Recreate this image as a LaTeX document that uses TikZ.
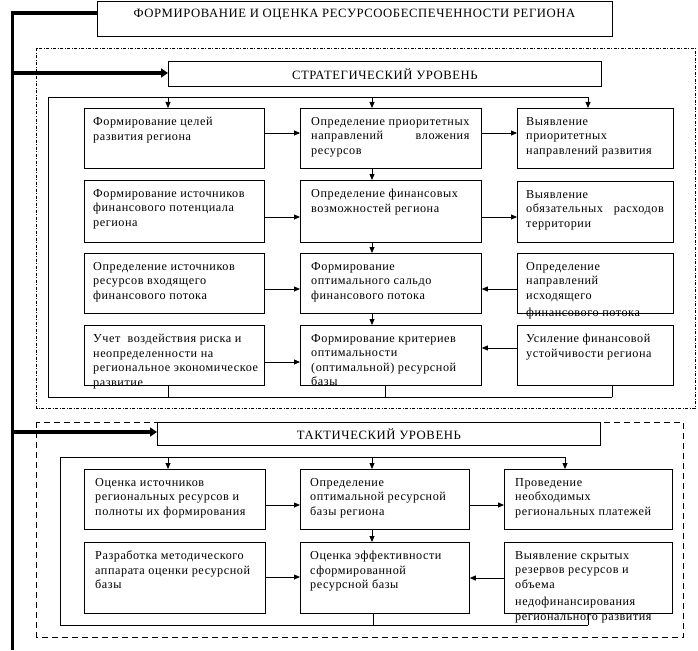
\documentclass[tikz,border=0pt]{standalone}
\usepackage{fontspec}
\setmainfont{Liberation Serif}[LetterSpace=4.5]
\usetikzlibrary{arrows.meta,calc}
\newcommand\mybox[7][9]{%
  \node[box,minimum width={(#5-#3)*1pt},minimum height={(#6-#4)*1pt}] (#2) at (#3,#4) {};
  \node[txt] (#2t) at ([xshift=#1pt,yshift=-9pt]#2.north west) {#7};}
\begin{document}
\begin{tikzpicture}[x=1pt,y=-1pt,
  box/.style={draw,line width=0.8pt,rectangle,inner sep=0pt,anchor=north west},
  txt/.style={anchor=north west,inner sep=0pt,align=left,font=\fontsize{12.2}{14.5}\selectfont},
  hdr/.style={font=\fontsize{12.7}{14}\selectfont},
  arr/.style={line width=0.8pt,-{Triangle[length=6pt,width=5pt]}},
  ln/.style={line width=0.8pt},
  thk/.style={line width=3.6pt,line join=miter},
  thkarr/.style={line width=3.6pt,-{Triangle[length=7pt,width=9pt]}},
  dashdot/.style={line width=0.6pt,dash pattern=on 3pt off 1.5pt on 1pt off 1.5pt},
  longdash/.style={line width=0.6pt,dash pattern=on 6pt off 4pt}]
\useasboundingbox (0,0) rectangle (698,650);
% title
\node[box,minimum width=515pt,minimum height=35pt] (T) at (97,1) {};
\node[hdr,anchor=center] (Tt) at (354.5,14.5) {ФОРМИРОВАНИЕ И ОЦЕНКА РЕСУРСООБЕСПЕЧЕННОСТИ РЕГИОНА};
% strategic frame
\draw[dashdot] (36.5,48.5) rectangle (695,408);
\node[box,minimum width=433pt,minimum height=25pt] (S) at (168,61) {};
\node[hdr] (St) at (S.center) {СТРАТЕГИЧЕСКИЙ УРОВЕНЬ};
% tactical frame
\draw[longdash] (36.5,422) rectangle (683,637);
\node[box,minimum width=443pt,minimum height=23pt] (K) at (157,422) {};
\node[hdr] (Kt) at (K.center) {ТАКТИЧЕСКИЙ УРОВЕНЬ};
% thick bus
\coordinate (b0) at (12.5,650);
\coordinate (b1) at (12.5,13);
\coordinate (b2) at (12.5,73);
\coordinate (b3) at (12.5,432);
\draw[thk] (b0) -- (b1) -- (b1 -| T.west);
\draw[thkarr] (b2) -- (b2 -| S.west);
\draw[thkarr] (b3) -- (b3 -| K.west);
% strategic boxes
\mybox{L1}{84}{108}{264}{168}{Формирование целей\\развития региона}
\mybox[11]{M1}{300}{108}{481}{168}{Определение приоритетных\\направлений\hfill вложения\\ресурсов}
\mybox{R1}{517}{108}{673}{168}{Выявление\\приоритетных\\направлений развития}
\mybox{L2}{84}{180}{264}{242}{Формирование источников\\финансового потенциала\\региона}
\mybox[11]{M2}{300}{180}{481}{242}{Определение финансовых\\возможностей региона}
\mybox{R2}{517}{181}{673}{242}{Выявление\\обязательных\ \ \ расходов\\территории}
\mybox{L3}{84}{253}{264}{313}{Определение источников\\ресурсов входящего\\финансового потока}
\mybox[11]{M3}{300}{253}{481}{313}{Формирование\\оптимального сальдо\\финансового потока}
\mybox{R3}{517}{253}{673}{313}{Определение\\направлений\\исходящего\\[3pt]финансового потока}
\mybox{L4}{84}{325}{264}{385}{Учет\ \ воздействия риска и\\неопределенности на\\региональное экономическое\\развитие}
\mybox[11]{M4}{300}{325}{481}{385}{Формирование критериев\\оптимальности\\(оптимальной) ресурсной\\базы}
\mybox{R4}{517}{325}{673}{385}{Усиление финансовой\\устойчивости региона}
% strategic connectors
\coordinate (sf0) at (48,397);
\coordinate (sf1) at (48,97);
\coordinate (sf2) at (588,97);
\coordinate (sl) at (168,97);
\coordinate (sm) at (372,97);
\coordinate (sb) at (385,397);
\coordinate (sr) at (612,397);
\draw[ln] (sr) -- (sf0) -- (sf1) -- (sf2);
\draw[arr] (sf2) -- (sf2 |- R1.north);
\draw[arr] (sl) -- (sl |- L1.north);
\draw[arr] (sm) -- (sm |- M1.north);
\draw[arr] (M1.south -| sm) -- (M2.north -| sm);
\draw[arr] (M2.south -| sm) -- (M3.north -| sm);
\draw[arr] (M3.south -| sm) -- (M4.north -| sm);
\draw[ln] (L4.south -| sl) -- (sl |- sf0);
\draw[ln] (M4.south -| sb) -- (sb);
\draw[ln] (R4.south -| sr) -- (sr);
\draw[arr] (L1.east |- 0,133) -- (M1.west |- 0,133);
\draw[arr] (M1.east |- 0,133) -- (R1.west |- 0,133);
\draw[arr] (L2.east |- 0,217) -- (M2.west |- 0,217);
\draw[arr] (M2.east |- 0,217) -- (R2.west |- 0,217);
\draw[arr] (L3.east |- 0,289) -- (M3.west |- 0,289);
\draw[arr] (R3.west |- 0,289) -- (M3.east |- 0,289);
\draw[arr] (L4.east |- 0,362) -- (M4.west |- 0,362);
\draw[arr] (R4.west |- 0,348) -- (M4.east |- 0,348);
% tactical boxes
\mybox[11]{A1}{84}{469}{265}{529}{Оценка источников\\региональных ресурсов и\\полноты их формирования}
\mybox[10]{B1}{300}{469}{469}{529}{Определение\\оптимальной ресурсной\\базы региона}
\mybox[11]{C1}{504}{469}{672}{529}{Проведение\\необходимых\\региональных платежей}
\mybox[11]{A2}{84}{542}{265}{613}{Разработка методического\\аппарата оценки ресурсной\\базы}
\mybox[10]{B2}{300}{542}{469}{613}{Оценка эффективности\\сформированной\\ресурсной базы}
\mybox[11]{C2}{504}{542}{672}{613}{Выявление скрытых\\резервов ресурсов и\\объема\\[3pt]недофинансирования\\регионального развития}
% tactical connectors
\coordinate (tf0) at (60,625);
\coordinate (tf1) at (60,457);
\coordinate (tf2) at (565,457);
\coordinate (tl) at (168,457);
\coordinate (tm) at (372,457);
\coordinate (tb) at (373,625);
\coordinate (tr) at (588,625);
\draw[ln] (tr) -- (tf0) -- (tf1) -- (tf2);
\draw[arr] (tf2) -- (tf2 |- C1.north);
\draw[arr] (tl) -- (tl |- A1.north);
\draw[arr] (tm) -- (tm |- B1.north);
\draw[arr] (B1.south -| tm) -- (B2.north -| tm);
\draw[ln] (B2.south -| tb) -- (tb);
\draw[ln] (C2.south -| tr) -- (tr);
\draw[arr] (A1.east |- 0,505) -- (B1.west |- 0,505);
\draw[arr] (B1.east |- 0,505) -- (C1.west |- 0,505);
\draw[arr] (A2.east |- 0,577) -- (B2.west |- 0,577);
\draw[arr] (C2.west |- 0,578) -- (B2.east |- 0,578);
\end{tikzpicture}
\end{document}
